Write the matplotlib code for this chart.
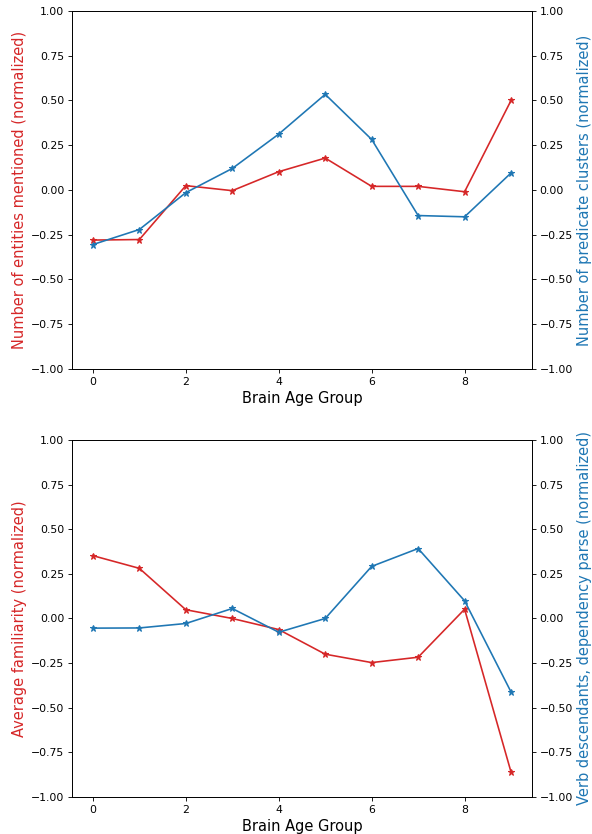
import matplotlib.pyplot as plt
import numpy as np

groups = np.arange(10)

entities = [-0.28, -0.277, 0.024, -0.004, 0.102, 0.178, 0.02, 0.02, -0.01, 0.5]
pred_clusters = [-0.305, -0.221, -0.015, 0.12, 0.312, 0.534, 0.282, -0.143, -0.15, 0.095]

familiarity = [0.352, 0.281, 0.049, 0.0, -0.062, -0.2, -0.247, -0.217, 0.052, -0.861]
verb_desc = [-0.054, -0.053, -0.028, 0.056, -0.077, 0.0, 0.292, 0.392, 0.099, -0.412]

panels = [
    (entities, pred_clusters,
     "Number of entities mentioned (normalized)",
     "Number of predicate clusters (normalized)"),
    (familiarity, verb_desc,
     "Average familiarity (normalized)",
     "Verb descendants, dependency parse (normalized)"),
]

red = "tab:red"
blue = "tab:blue"

# rendered at a low dpi so the default sizes shrink like the reference
dpi = 78
fig = plt.figure(figsize=(592 / dpi, 834 / dpi), dpi=dpi)
boxes = [[0.1216, 0.5576, 0.777, 0.4293], [0.1216, 0.0444, 0.777, 0.428]]
ticks = [-1.0, -0.75, -0.5, -0.25, 0.0, 0.25, 0.5, 0.75, 1.0]

for box, (left_vals, right_vals, left_label, right_label) in zip(boxes, panels):
    ax = fig.add_axes(box)
    ax.plot(groups, left_vals, color=red, marker="*")
    ax.set_ylim(-1, 1)
    ax.set_yticks(ticks)
    ax.set_ylabel(left_label, color=red, fontsize=13.5)
    ax.set_xlabel("Brain Age Group", fontsize=13.5)
    ax.set_xticks([0, 2, 4, 6, 8])

    ax2 = ax.twinx()
    ax2.plot(groups, right_vals, color=blue, marker="*")
    ax2.set_ylim(-1, 1)
    ax2.set_yticks(ticks)
    ax2.set_ylabel(right_label, color=blue, fontsize=13.5)

fig.savefig("out.png", dpi=dpi)
